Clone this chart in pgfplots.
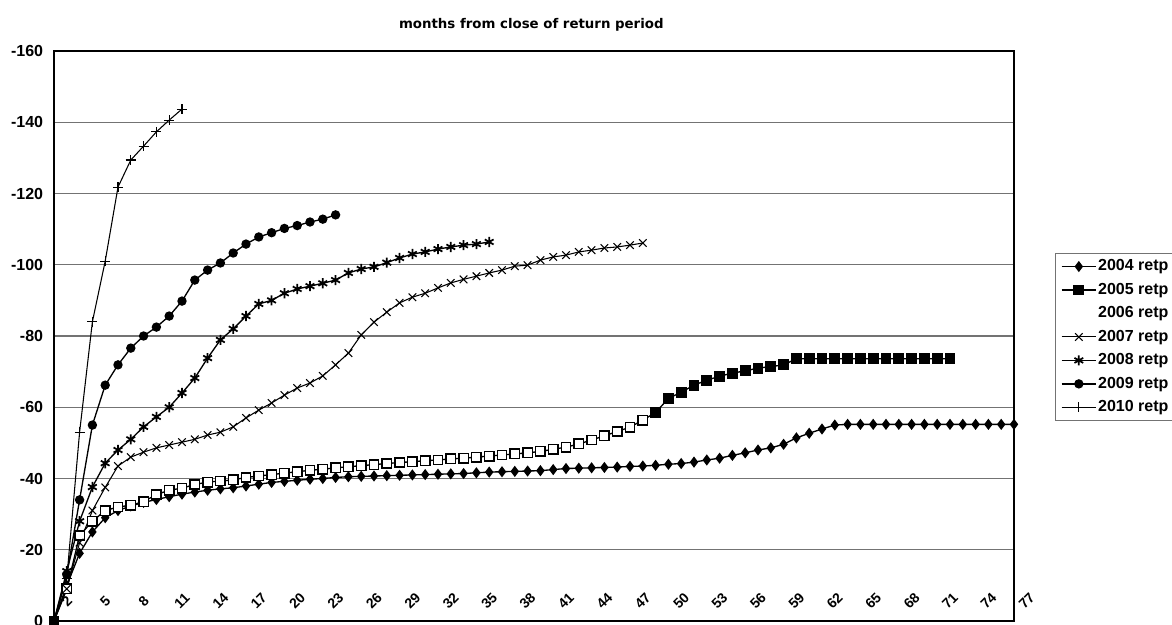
\documentclass[border=0pt]{standalone}
\usepackage{fontspec}
\setmainfont{Liberation Sans}
\newfontfamily\titlefont{DejaVu Sans}
\usepackage{pgfplots}
\usepackage{pgfplotstable}
\pgfplotsset{compat=1.18}

% months from close of return period (x) vs value (y), one table per year
\pgfplotstableread{
x y
1 0
2 -10
3 -19
4 -25
5 -29
6 -31
7 -32.3
8 -33.3
9 -34.1
10 -34.9
11 -35.6
12 -36.2
13 -36.7
14 -37.1
15 -37.4
16 -37.9
17 -38.4
18 -38.9
19 -39.2
20 -39.5
21 -39.8
22 -40
23 -40.3
24 -40.5
25 -40.6
26 -40.7
27 -40.8
28 -40.9
29 -41
30 -41.1
31 -41.2
32 -41.3
33 -41.4
34 -41.6
35 -41.8
36 -41.9
37 -42
38 -42.1
39 -42.2
40 -42.5
41 -42.8
42 -42.9
43 -43
44 -43.1
45 -43.2
46 -43.4
47 -43.5
48 -43.7
49 -44
50 -44.2
51 -44.6
52 -45.2
53 -45.7
54 -46.5
55 -47.2
56 -48
57 -48.6
58 -49.6
59 -51.4
60 -52.7
61 -53.9
62 -55
63 -55.2
64 -55.2
65 -55.2
66 -55.2
67 -55.2
68 -55.2
69 -55.2
70 -55.2
71 -55.2
72 -55.2
73 -55.2
74 -55.2
75 -55.2
76 -55.2
}\retpA

\pgfplotstableread{
x y
1 0
2 -9
3 -24
4 -28
5 -31
6 -32
7 -32.5
8 -33.5
9 -35.5
10 -36.7
11 -37.3
12 -38.3
13 -39
14 -39.3
15 -39.6
16 -40.3
17 -40.7
18 -41.1
19 -41.5
20 -41.9
21 -42.3
22 -42.6
23 -43
24 -43.3
25 -43.6
26 -43.9
27 -44.2
28 -44.5
29 -44.7
30 -45
31 -45.2
32 -45.5
33 -45.7
34 -46
35 -46.3
36 -46.6
37 -46.9
38 -47.2
39 -47.6
40 -48.2
41 -48.8
42 -49.7
43 -50.8
44 -52
45 -53.2
46 -54.4
47 -56.4
48 -58.5
49 -62.5
50 -64.2
51 -66.2
52 -67.6
53 -68.7
54 -69.6
55 -70.2
56 -71
57 -71.4
58 -71.9
59 -73.6
60 -73.6
61 -73.6
62 -73.6
63 -73.6
64 -73.6
65 -73.6
66 -73.6
67 -73.6
68 -73.6
69 -73.6
70 -73.6
71 -73.6
}\retpB

\pgfplotstableread{
x y
1 0
2 -9
3 -22
4 -31
5 -37.5
6 -43.5
7 -46
8 -47.4
9 -48.6
10 -49.4
11 -50.2
12 -51
13 -52.2
14 -53
15 -54.5
16 -57
17 -59.2
18 -61.2
19 -63.4
20 -65.4
21 -66.8
22 -68.8
23 -71.9
24 -75.2
25 -80.3
26 -83.9
27 -86.7
28 -89.3
29 -90.9
30 -92
31 -93.5
32 -94.9
33 -95.9
34 -96.8
35 -97.7
36 -98.5
37 -99.6
38 -99.9
39 -101.3
40 -102.2
41 -102.7
42 -103.6
43 -104.1
44 -104.7
45 -105
46 -105.5
47 -106.1
}\retpD

\pgfplotstableread{
x y
1 0
2 -14
3 -28
4 -37.6
5 -44.3
6 -48
7 -51
8 -54.5
9 -57.3
10 -60
11 -64
12 -68.2
13 -73.8
14 -78.9
15 -82
16 -85.6
17 -89
18 -90
19 -92
20 -93.2
21 -94
22 -94.8
23 -95.7
24 -97.7
25 -98.8
26 -99.4
27 -100.6
28 -101.9
29 -103
30 -103.6
31 -104.4
32 -105
33 -105.5
34 -105.8
35 -106.4
}\retpE

\pgfplotstableread{
x y
1 0
2 -13
3 -34
4 -55
5 -66.2
6 -71.9
7 -76.6
8 -80
9 -82.5
10 -85.6
11 -89.8
12 -95.7
13 -98.5
14 -100.5
15 -103.3
16 -105.8
17 -107.8
18 -109
19 -110.2
20 -111
21 -112
22 -112.8
23 -114
}\retpF

\pgfplotstableread{
x y
1 0
2 -12
3 -53
4 -84
5 -101
6 -121.8
7 -129.4
8 -133.3
9 -137.3
10 -140.6
11 -143.7
}\retpG

\begin{document}
\begin{tikzpicture}
\begin{axis}[
    name=ax,
    scale only axis,
    width=720pt,
    height=427.5pt,
    xmin=1, xmax=76,
    ymin=-160, ymax=0,
    y dir=reverse,
    clip=false,
    axis line style={black, line width=1.4pt},
    ymajorgrids,
    grid style={black!55, line width=1pt},
    major tick length=0pt,
    ytick={-160,-140,...,0},
    yticklabels={-160,-140,-120,-100,-80,-60,-40,-20,0},
    yticklabel style={font=\bfseries\fontsize{12}{14}\selectfont, inner sep=0pt, xshift=-8pt},
    xtick={2,5,...,74},
    xticklabels={2,5,8,11,14,17,20,23,26,29,32,35,38,41,44,47,50,53,56,59,62,65,68,71,74},
    xticklabel style={font=\bfseries\fontsize{10.5}{12}\selectfont, inner sep=0pt, anchor=center, yshift=15pt, rotate=45},
    every axis plot/.append style={black},
    legend style={at={(1.0427,0.6456)}, anchor=north west, draw=black!55, line width=0.8pt,
        font=\bfseries\fontsize{12}{14}\selectfont, inner xsep=4pt, inner ysep=3pt, row sep=4.1pt,
        nodes={inner sep=1pt, text height=9pt, text depth=2.5pt}},
    legend cell align=left,
    legend image code/.code={\draw[mark repeat=2, mark phase=2, #1] plot coordinates {(0pt,0pt) (13pt,0pt) (26pt,0pt)};},
]
\addplot[line width=1pt, mark=diamond*, mark size=3.4pt] table {\retpA};
\addlegendentry{2004 retp}
\addplot[line width=1pt, mark=square*, mark size=3.6pt] table {\retpB};
\addlegendentry{2005 retp}
\addplot[forget plot, only marks, mark=square*, mark size=3.4pt, mark options={fill=white, draw=black, line width=0.9pt}, restrict x to domain=2:47] table {\retpB};
\addlegendimage{white, line width=1pt}
\addlegendentry{2006 retp}
\addplot[line width=0.8pt, mark=x, mark size=4pt] table {\retpD};
\addlegendentry{2007 retp}
\addplot[line width=1pt, mark=asterisk, mark size=3.8pt, mark options={line width=1.3pt}] table {\retpE};
\addlegendentry{2008 retp}
\addplot[line width=1pt, mark=*, mark size=3pt] table {\retpF};
\addlegendentry{2009 retp}
\addplot[line width=0.8pt, mark=+, mark size=3.8pt] table {\retpG};
\addlegendentry{2010 retp}
\node[font=\bfseries\fontsize{10.5}{12}\selectfont, inner sep=0pt, anchor=center, rotate=45] at ([yshift=15pt]axis cs:77,0) {77};
\end{axis}
\node[font=\titlefont\bfseries\fontsize{10}{12}\selectfont] at ([xshift=358pt,yshift=447pt]ax.south west) {months from close of return period};
\pgfresetboundingbox
\path[use as bounding box] ([xshift=-40.5pt,yshift=-3pt]ax.south west) rectangle ([xshift=838.5pt,yshift=465.75pt]ax.south west);
\end{tikzpicture}
\end{document}
